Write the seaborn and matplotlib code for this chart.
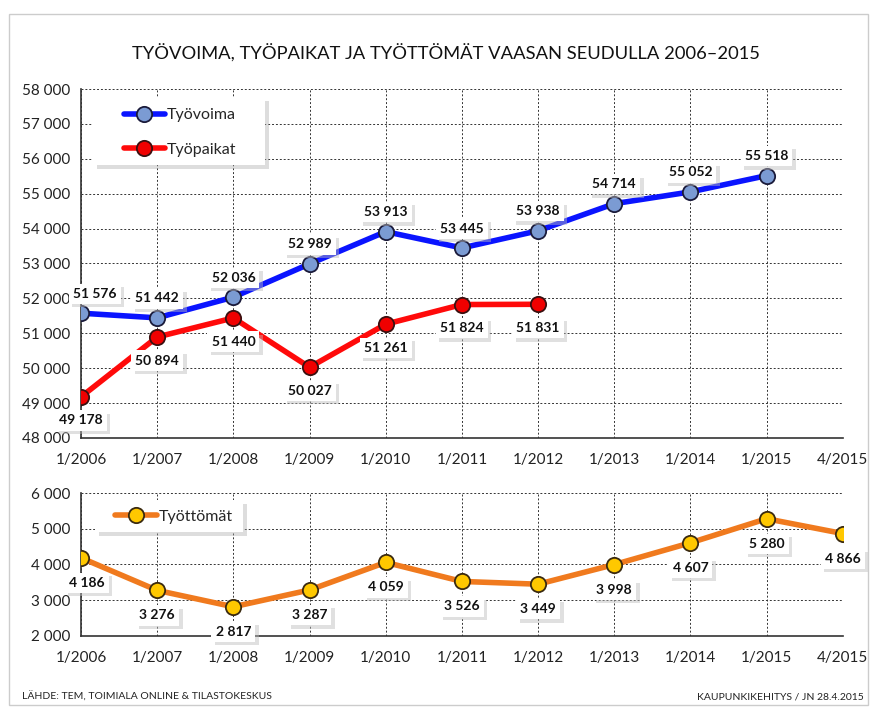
import matplotlib
matplotlib.use("Agg")
import matplotlib.pyplot as plt
import matplotlib.patheffects as pe
import seaborn as sns
import pandas as pd
import numpy as np

periods = ["1/2006", "1/2007", "1/2008", "1/2009", "1/2010", "1/2011",
           "1/2012", "1/2013", "1/2014", "1/2015", "4/2015"]
tyovoima = [51576, 51442, 52036, 52989, 53913, 53445, 53938, 54714, 55052, 55518]
tyopaikat = [49178, 50894, 51440, 50027, 51261, 51824, 51831]
tyottomat = [4186, 3276, 2817, 3287, 4059, 3526, 3449, 3998, 4607, 5280, 4866]

title = "TYÖVOIMA, TYÖPAIKAT JA TYÖTTÖMÄT VAASAN SEUDULLA 2006–2015"
source = "LÄHDE: TEM, TOIMIALA ONLINE & TILASTOKESKUS"
credit = "KAUPUNKIKEHITYS / JN 28.4.2015"

sns.set_style("white")
plt.rcParams["font.family"] = ["Lato", "DejaVu Sans"]

fig = plt.figure(figsize=(8.77, 7.11), dpi=100)
ax1 = fig.add_axes([0.0924, 0.384, 0.8686, 0.4908])
ax2 = fig.add_axes([0.0924, 0.1055, 0.8686, 0.2011])

def fmt(v):
    return f"{v:,}".replace(",", " ")

df1 = pd.DataFrame({"x": range(len(tyovoima)), "v": tyovoima})
df2 = pd.DataFrame({"x": range(len(tyopaikat)), "v": tyopaikat})
df3 = pd.DataFrame({"x": range(len(tyottomat)), "v": tyottomat})

sns.lineplot(data=df1, x="x", y="v", ax=ax1, color="#0A14FF", lw=4,
             marker="o", markersize=11, markerfacecolor="#7B9BD3",
             markeredgecolor="#1A1A3A", markeredgewidth=1.3, label="Työvoima", zorder=4)
sns.lineplot(data=df2, x="x", y="v", ax=ax1, color="#FF0A0A", lw=4,
             marker="o", markersize=11, markerfacecolor="#F00000",
             markeredgecolor="#3A1010", markeredgewidth=1.3, label="Työpaikat", zorder=4)
sns.lineplot(data=df3, x="x", y="v", ax=ax2, color="#F07A1E", lw=4,
             marker="o", markersize=11, markerfacecolor="#FFC800",
             markeredgecolor="#3A2A10", markeredgewidth=1.3, label="Työttömät", zorder=4)

shadow = [pe.SimplePatchShadow(offset=(2.5, -2.5), shadow_rgbFace="#BBBBBB", alpha=0.45), pe.Normal()]

def label(ax, x, y, txt, dy, dx=0):
    t = ax.annotate(txt, (x, y), xytext=(dx, dy), textcoords="offset points",
                    ha="center", va="center", fontsize=10, fontweight="bold",
                    color="#111111", zorder=6,
                    bbox=dict(boxstyle="square,pad=0.3", fc="white", ec="none"))
    t.get_bbox_patch().set_path_effects(shadow)

for i, v in enumerate(tyovoima):
    label(ax1, i, v, fmt(v), 14, 10 if i == 0 else 0)
for i, v in enumerate(tyopaikat):
    label(ax1, i, v, fmt(v), -17)
for i, v in enumerate(tyottomat):
    label(ax2, i, v, fmt(v), -18, 4 if i == 0 else 0)

for ax, (lo, hi, step) in [(ax1, (48000, 58000, 1000)), (ax2, (2000, 6000, 1000))]:
    ax.set_xlim(0, 10)
    ax.set_ylim(lo, hi)
    ax.set_yticks(np.arange(lo, hi + 1, step))
    ax.set_yticklabels([fmt(int(v)) for v in np.arange(lo, hi + 1, step)])
    ax.set_xticks(range(len(periods)))
    ax.set_xticklabels(periods)
    ax.set_xlabel("")
    ax.set_ylabel("")
    ax.grid(True, color="#333333", ls=(0, (2, 2)), lw=0.7)
    ax.set_axisbelow(True)
    for s in ["top", "right"]:
        ax.spines[s].set_visible(False)
    for s in ["left", "bottom"]:
        ax.spines[s].set_color("#333333")
        ax.spines[s].set_linewidth(1.2)
    ax.tick_params(axis="both", direction="out", length=5, color="#333333",
                   labelsize=11, labelcolor="#222222", pad=6, width=1)
    ax.tick_params(axis="y", pad=3)

# legend boxes (white with soft shadow) and frameless legends on top
for ax, (x0, y0, w, h) in [(ax1, (0.0157, 0.782, 0.2258, 0.195)),
                           (ax2, (0.0184, 0.727, 0.1942, 0.224))]:
    r = plt.Rectangle((x0, y0), w, h, transform=ax.transAxes, fc="white", ec="none", zorder=7)
    r.set_path_effects([pe.SimplePatchShadow(offset=(3, -3), shadow_rgbFace="#AAAAAA", alpha=0.4),
                        pe.Normal()])
    ax.add_patch(r)

leg1 = ax1.legend(loc="upper left", bbox_to_anchor=(0.056, 0.945), frameon=False,
                  fontsize=11.5, handlelength=2.6, borderpad=0, labelspacing=1.25,
                  handletextpad=0.1, borderaxespad=0)
leg1.set_zorder(8)
leg2 = ax2.legend(loc="upper left", bbox_to_anchor=(0.045, 0.885), frameon=False,
                  fontsize=11.5, handlelength=2.6, borderpad=0,
                  handletextpad=0.1, borderaxespad=0)
leg2.set_zorder(8)

fig.text(0.509, 0.925, title, ha="center", va="center", fontsize=13.2, color="#111111")
fig.text(0.025, 0.02, source, ha="left", va="center", fontsize=7.5, color="#222222")
fig.text(0.985, 0.02, credit, ha="right", va="center", fontsize=7.5, color="#222222")

border = plt.Rectangle((0.01, 0.008), 0.98, 0.972, transform=fig.transFigure,
                       fill=False, ec="#CCCCCC", lw=1)
fig.add_artist(border)

fig.savefig("out.png", dpi=100)
